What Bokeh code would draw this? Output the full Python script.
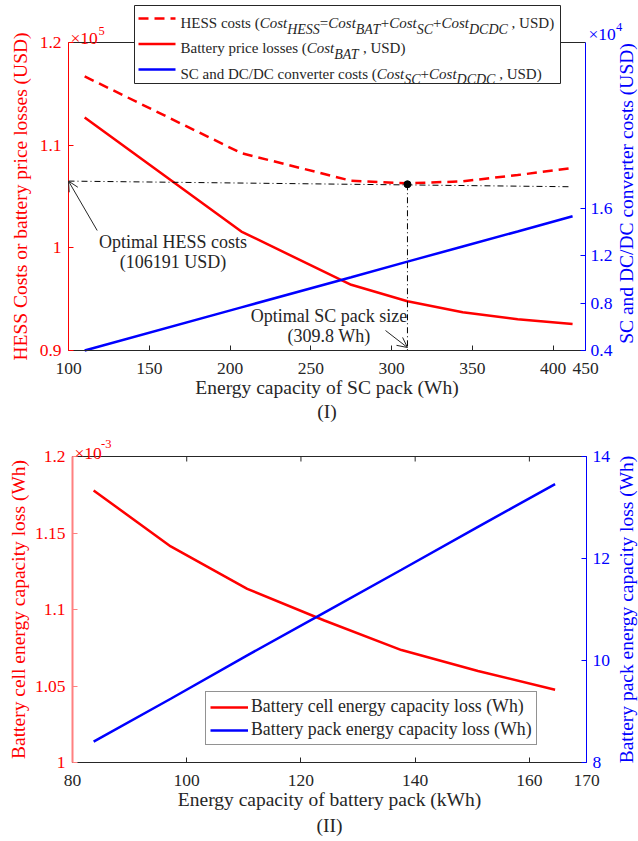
import math
from bokeh.plotting import figure
from bokeh.models import (Range1d, LinearAxis, FixedTicker, Label, Arrow, OpenHead,
                          BoxAnnotation)
from bokeh.layouts import column
from bokeh.embed import file_html
from bokeh.resources import INLINE

FONT = "Liberation Serif"
INK = "#262626"
RED = "#ff0000"
BLUE = "#0000ff"

# ---------------- data, chart (I) ----------------
sc_energy_wh = [110, 207, 275, 309.8, 344, 378, 412]
hess_cost_usd = [116700, 109220, 106530, 106280, 106480, 107090, 107770]
battery_loss_usd = [112700, 101580, 96400, 94790, 93720, 93050, 92590]
sc_dcdc_cost_usd = [4000, 7640, 10190, 11500, 12780, 14050, 15330]
opt_sc_wh = 309.8
opt_hess_usd = 106191
guide_x = [100, 410.5]
guide_usd = [106500, 105950]

x1_ticks = [100, 150, 200, 250, 300, 350, 400, 420]
x1_labels = ["100", "150", "200", "250", "300", "350", "400", "450"]
y1_ticks = [0.9, 1.0, 1.1, 1.2]
y1_labels = ["0.9", "1", "1.1", "1.2"]
y1r_ticks = [0.4, 0.8, 1.2, 1.6]
y1r_labels = ["0.4", "0.8", "1.2", "1.6"]

# ---------------- data, chart (II) ----------------
pack_kwh = [83.7, 97.2, 110.6, 124.1, 137.6, 151.0, 164.5]
cell_loss_e3_wh = [1.1778, 1.1412, 1.1135, 1.0928, 1.0735, 1.0598, 1.0475]
pack_loss_wh = [8.41, 9.25, 10.10, 10.94, 11.78, 12.62, 13.46]

x2_ticks = [80, 100, 120, 140, 160, 170]
x2_labels = ["80", "100", "120", "140", "160", "170"]
y2_ticks = [1.0, 1.05, 1.1, 1.15, 1.2]
y2_labels = ["1", "1.05", "1.1", "1.15", "1.2"]
y2r_ticks = [8, 10, 12, 14]
y2r_labels = ["8", "10", "12", "14"]

# Times-compatible advance widths (per 1000 em) for hand-set legend text
W_REG = {' ': 250, '(': 333, ')': 333, '=': 564, '+': 564, ',': 250, '.': 250, '/': 278,
         'A': 722, 'B': 667, 'C': 667, 'D': 722, 'E': 611, 'H': 722, 'S': 556, 'T': 611,
         'U': 722, 'W': 944, 'O': 722,
         'a': 444, 'b': 500, 'c': 444, 'd': 500, 'e': 444, 'f': 333, 'g': 500, 'h': 500,
         'i': 278, 'k': 500, 'l': 278, 'm': 778, 'n': 500, 'o': 500, 'p': 500, 'r': 333,
         's': 389, 't': 278, 'u': 500, 'v': 500, 'y': 500, 'z': 444}
W_IT = {'C': 667, 'o': 500, 's': 389, 't': 278, 'H': 722, 'E': 611, 'S': 500, 'B': 611,
        'A': 611, 'T': 556, 'D': 722}

W = 638


def make_fig(H, box, xr, yr):
    """Figure whose frame fills the canvas; box = plot-area pixel edges (l, r, t, b)."""
    l, r, t, b = box
    kx = (r - l) / (xr[1] - xr[0])
    ky = (b - t) / (yr[1] - yr[0])
    p = figure(width=W, height=H,
               x_range=Range1d(xr[0] - l / kx, xr[1] + (W - r) / kx),
               y_range=Range1d(yr[0] - (H - b) / ky, yr[1] + t / ky),
               output_backend="svg", toolbar_location=None,
               min_border_left=0, min_border_right=0, min_border_top=0, min_border_bottom=0)
    p.outline_line_color = None
    p.grid.visible = False
    p.background_fill_color = "white"
    p.border_fill_color = "white"
    fx = lambda px: xr[0] + (px - l) / kx
    fy = lambda py: yr[1] - (py - t) / ky
    return p, fx, fy, ky


def extra_range(H, box, yr):
    l, r, t, b = box
    ky = (b - t) / (yr[1] - yr[0])
    return Range1d(yr[0] - (H - b) / ky, yr[1] + t / ky)


def lbl(p, x, y, text, size, color=INK, align="left", baseline="alphabetic", style="normal",
        angle=0):
    p.add_layout(Label(x=x, y=y, text=text, text_font=FONT, text_font_size=f"{size}px",
                       text_color=color, text_align=align, text_baseline=baseline,
                       text_font_style=style, angle=angle))


def rich(p, fx, fy, x_px, base_px, pieces, size=15, sub_size=14, sub_drop=6):
    x = x_px
    for text, italic, sub in pieces:
        fs = sub_size if sub else size
        table = W_IT if italic else W_REG
        lead = len(text) - len(text.lstrip(' '))
        trail = len(text) - len(text.rstrip(' '))
        body = text.strip(' ')
        x += lead * 250 * fs / 1000
        lbl(p, fx(x), fy(base_px + (sub_drop if sub else 0)), body, fs,
            style="italic" if italic else "normal")
        x += sum(table.get(c, 500) for c in body) * fs / 1000
        x += trail * 250 * fs / 1000


def style_axis(ax, line_color, label_color, ticks, labels, loc, bounds, line_width=1):
    ax.fixed_location = loc
    ax.bounds = bounds
    ax.ticker = FixedTicker(ticks=ticks)
    ax.major_label_overrides = {t: l for t, l in zip(ticks, labels)}
    ax.axis_line_color = line_color
    ax.axis_line_width = line_width
    ax.major_tick_line_color = line_color
    ax.major_tick_in = 5
    ax.major_tick_out = 0
    ax.minor_tick_line_color = None
    ax.major_label_text_color = label_color
    ax.major_label_text_font = FONT
    ax.major_label_text_font_size = "17.5px"
    ax.axis_label_text_font = FONT
    ax.axis_label_text_font_style = "normal"
    ax.axis_label_text_font_size = "19.5px"
    ax.axis_label_text_color = label_color


# ================= chart (I) =================
H1 = 425
BOX1 = (68, 585, 42, 350)
p1, tx, ty, ky1 = make_fig(H1, BOX1, (100, 420), (0.9, 1.2))
p1.extra_y_ranges = {"sc": extra_range(H1, BOX1, (0.4, 3.0))}

style_axis(p1.xaxis[0], INK, INK, x1_ticks, x1_labels, 0.9, (100, 420))
p1.xaxis[0].axis_label = "Energy capacity of SC pack (Wh)"
p1.xaxis[0].major_label_standoff = 12
p1.xaxis[0].axis_label_standoff = 0

style_axis(p1.yaxis[0], RED, RED, y1_ticks, y1_labels, 100, (0.9, 1.2))
p1.yaxis[0].axis_label = "HESS Costs or battery price losses (USD)"
p1.yaxis[0].major_label_standoff = 7
p1.yaxis[0].axis_label_standoff = 6

ax_r1 = LinearAxis(y_range_name="sc")
style_axis(ax_r1, BLUE, BLUE, y1r_ticks, y1r_labels, 420, (0.4, 3.0))
ax_r1.major_label_standoff = 5
p1.add_layout(ax_r1, "right")
# right-axis title, reading bottom-to-top like the reference
lbl(p1, tx(626), ty(193), "SC and DC/DC converter costs (USD)", 19.5, color=BLUE,
    align="center", baseline="middle", angle=math.pi / 2)

# top border of the plot box
p1.line([100, 420], [1.2, 1.2], line_color=INK, line_width=1)

p1.line(sc_energy_wh, [v / 1e5 for v in hess_cost_usd], line_color=RED, line_width=2.5,
        line_dash="10 6")
p1.line(sc_energy_wh, [v / 1e5 for v in battery_loss_usd], line_color=RED, line_width=2.5)
p1.line(sc_energy_wh, [v / 1e4 for v in sc_dcdc_cost_usd], line_color=BLUE, line_width=2.5,
        y_range_name="sc")
p1.line(guide_x, [v / 1e5 for v in guide_usd], line_color="black", line_width=1,
        line_dash="6 3 1 3")
p1.line([opt_sc_wh, opt_sc_wh], [opt_hess_usd / 1e5, y1_ticks[0]], line_color="black",
        line_width=1, line_dash="6 3 1 3")
p1.scatter([opt_sc_wh], [opt_hess_usd / 1e5], size=7, color="black")

lbl(p1, tx(172.6), ty(241.7), "Optimal HESS costs", 18, align="center", baseline="middle")
lbl(p1, tx(172.6), ty(261.7), f"({opt_hess_usd} USD)", 18, align="center", baseline="middle")
lbl(p1, tx(328.5), ty(315), "Optimal SC pack size", 18, align="center", baseline="middle")
lbl(p1, tx(328.5), ty(335), f"({opt_sc_wh} Wh)", 18, align="center", baseline="middle")
p1.add_layout(Arrow(end=OpenHead(size=10, line_width=1, line_color=INK),
                    x_start=tx(96.7), y_start=ty(230), x_end=guide_x[0],
                    y_end=guide_usd[0] / 1e5, line_width=1, line_color=INK))
p1.add_layout(Arrow(end=OpenHead(size=10, line_width=1, line_color=INK),
                    x_start=tx(385), y_start=ty(330), x_end=opt_sc_wh, y_end=ty(347),
                    line_width=1, line_color=INK))
lbl(p1, tx(326.5), ty(411), "(I)", 19.5, align="center", baseline="middle")

# exponent markers
lbl(p1, tx(70), ty(37.5), "\u00d710", 17.5, color=RED)
lbl(p1, tx(98), ty(30), "5", 12.5, color=RED)
lbl(p1, tx(588), ty(33), "\u00d710", 17.5, color=BLUE)
lbl(p1, tx(615.5), ty(26), "4", 12.5, color=BLUE)

# legend (hand-set because of subscripts)
p1.add_layout(BoxAnnotation(left=tx(134), right=tx(560), top=ty(5), bottom=ty(83),
                            fill_color="white", fill_alpha=1, line_color=INK,
                            line_width=1, line_alpha=1))
for yy, col, dash in [(18, RED, "10 6"), (43.5, RED, "solid"), (69, BLUE, "solid")]:
    p1.add_layout(Arrow(end=None, x_start=tx(138), y_start=ty(yy), x_end=tx(175),
                        y_end=ty(yy), line_color=col, line_width=2.5, line_dash=dash))
rich(p1, tx, ty, 180, 22.5, [("HESS costs (", False, False), ("Cost", True, False),
                             ("HESS", True, True), ("=", False, False), ("Cost", True, False),
                             ("BAT", True, True), ("+", False, False), ("Cost", True, False),
                             ("SC", True, True), ("+", False, False), ("Cost", True, False),
                             ("DCDC", True, True), (" , USD)", False, False)])
rich(p1, tx, ty, 180, 47.5, [("Battery price losses (", False, False), ("Cost", True, False),
                             ("BAT", True, True), (" , USD)", False, False)])
rich(p1, tx, ty, 180, 73, [("SC and DC/DC converter costs (", False, False),
                           ("Cost", True, False), ("SC", True, True), ("+", False, False),
                           ("Cost", True, False), ("DCDC", True, True),
                           (" , USD)", False, False)])

# ================= chart (II) =================
H2 = 416
BOX2 = (72, 586, 31, 337)
p2, bx, by, ky2 = make_fig(H2, BOX2, (80, 170), (1.0, 1.2))
p2.extra_y_ranges = {"pack": extra_range(H2, BOX2, (8, 14))}

style_axis(p2.xaxis[0], INK, INK, x2_ticks, x2_labels, 1.0, (80, 170))
p2.xaxis[0].axis_label = "Energy capacity of battery pack (kWh)"
p2.xaxis[0].major_label_standoff = 12
p2.xaxis[0].axis_label_standoff = 0

style_axis(p2.yaxis[0], "#ff8080", RED, y2_ticks, y2_labels, 80, (1.0, 1.2), line_width=2)
p2.yaxis[0].axis_label = "Battery cell energy capacity loss (Wh)"
p2.yaxis[0].major_label_standoff = 7
p2.yaxis[0].axis_label_standoff = 3

ax_r2 = LinearAxis(y_range_name="pack")
style_axis(ax_r2, BLUE, BLUE, y2r_ticks, y2r_labels, 170, (8, 14))
ax_r2.major_label_standoff = 6
p2.add_layout(ax_r2, "right")
lbl(p2, bx(626), by(184), "Battery pack energy capacity loss (Wh)", 19.5, color=BLUE,
    align="center", baseline="middle", angle=math.pi / 2)

# top border with inward ticks
p2.line([80, 170], [1.2, 1.2], line_color=INK, line_width=1)
p2.segment(x0=x2_ticks, y0=[1.2] * len(x2_ticks), x1=x2_ticks,
           y1=[1.2 - 5 / ky2] * len(x2_ticks), line_color=INK, line_width=1)

p2.line(pack_kwh, cell_loss_e3_wh, line_color=RED, line_width=2.5,
        legend_label="Battery cell energy capacity loss (Wh)")
p2.line(pack_kwh, pack_loss_wh, line_color=BLUE, line_width=2.5, y_range_name="pack",
        legend_label="Battery pack energy capacity loss (Wh)")
lg = p2.legend[0]
lg.location = (205, 96)
lg.label_text_font = FONT
lg.label_text_font_size = "17.8px"
lg.label_text_color = INK
lg.glyph_width = 38
lg.glyph_height = 18
lg.label_height = 18
lg.label_standoff = 3
lg.padding = 4
lg.spacing = 2
lg.margin = 0
lg.border_line_color = INK
lg.border_line_width = 1
lg.background_fill_alpha = 1

lbl(p2, bx(74), by(27), "\u00d710", 17.5, color=RED)
lbl(p2, bx(100.5), by(18.5), "-3", 12.5, color=RED)
lbl(p2, bx(329), by(400), "(II)", 19.5, align="center", baseline="middle")

page = column(p1, p2)
open("out.html", "w").write(file_html(page, INLINE))
